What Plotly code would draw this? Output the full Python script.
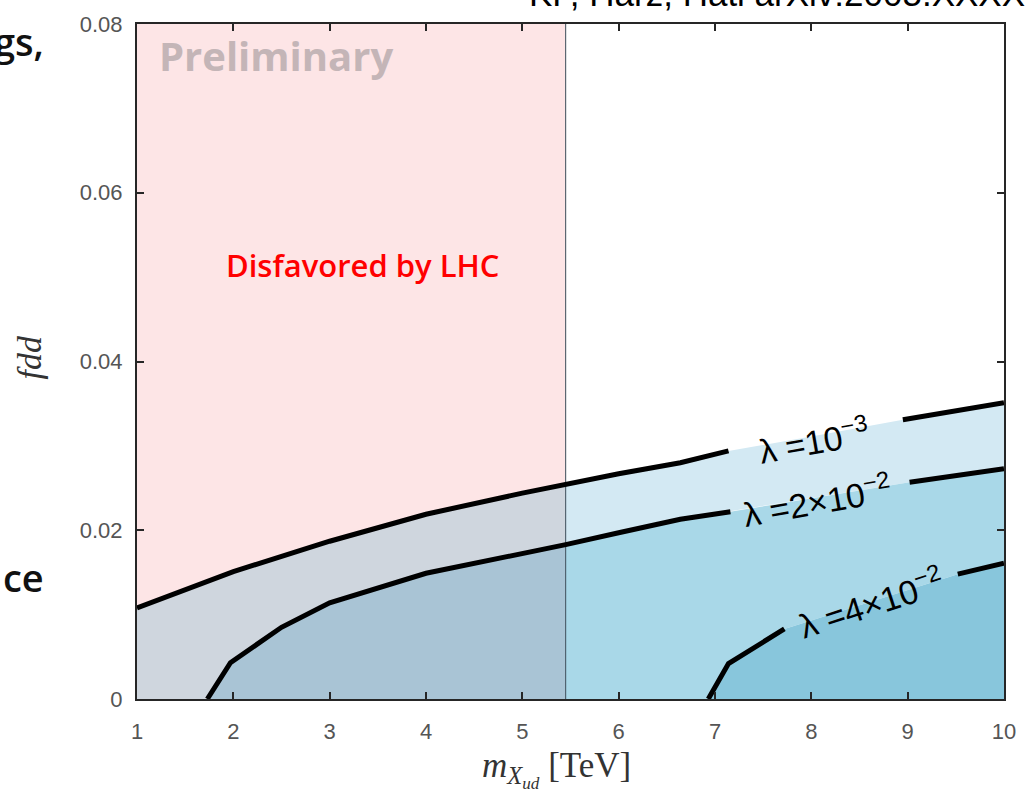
import plotly.graph_objects as go

# Contours of constant lambda in the (m_X, f_dd) plane
lam3_m = [1.0, 2.0, 3.0, 4.0, 5.0, 5.45, 6.0, 6.64, 7.14, 8.0, 8.95, 10.0]
lam3_f = [0.0108, 0.0151, 0.0187, 0.0219, 0.0244, 0.0255, 0.0267, 0.0280, 0.0294, 0.0311, 0.0331, 0.0351]

lam2_m = [1.73, 1.97, 2.5, 3.0, 4.0, 5.0, 5.45, 6.0, 6.64, 7.16, 8.0, 9.02, 10.0]
lam2_f = [0.0, 0.0043, 0.0085, 0.0114, 0.0149, 0.0172, 0.0183, 0.0197, 0.0213, 0.0222, 0.0238, 0.0257, 0.0273]

lam4_m = [6.93, 7.14, 7.72, 8.0, 9.0, 9.52, 10.0]
lam4_f = [0.0, 0.0042, 0.0083, 0.0093, 0.0129, 0.0148, 0.0161]

# LHC exclusion boundary [TeV]
m_lhc = 5.45

m_range = [1, 10]
f_range = [0, 0.08]
x_ticks = [1, 2, 3, 4, 5, 6, 7, 8, 9, 10]
y_ticks = [0, 0.02, 0.04, 0.06, 0.08]
y_ticklabels = ["0", "0.02", "0.04", "0.06", "0.08"]

contour_labels = ["λ =10<sup>−3</sup>", "λ =2×10<sup>−2</sup>", "λ =4×10<sup>−2</sup>"]

# figure geometry
W, H = 1029, 791
ML, MR, MT, MB = 137, 25, 17, 92
PW, PH = W - ML - MR, H - MT - MB


def px(x):
    return (x - ML) / PW


def py(y):
    return (H - MB - y) / PH


def seg(ms, fs, lo, hi):
    pts = [(m, f) for m, f in zip(ms, fs) if lo - 1e-9 <= m <= hi + 1e-9]
    return [p[0] for p in pts], [p[1] for p in pts]


fig = go.Figure()


def region(xs, ys, color):
    fig.add_trace(go.Scatter(x=xs, y=ys, mode="lines", fill="toself",
                             fillcolor=color, line=dict(width=0),
                             hoverinfo="skip", showlegend=False))


x3L, y3L = seg(lam3_m, lam3_f, m_range[0], m_lhc)
x3R, y3R = seg(lam3_m, lam3_f, m_lhc, m_range[1])
x2L, y2L = seg(lam2_m, lam2_f, m_range[0], m_lhc)
x2R, y2R = seg(lam2_m, lam2_f, m_lhc, m_range[1])

# left (LHC-disfavoured) side
region(x3L + [m_lhc, m_range[0]], y3L + [f_range[1], f_range[1]], "#fde5e6")
region(x3L + x2L[::-1] + [m_range[0]], y3L + y2L[::-1] + [0], "#cfd6de")
region(x2L + [m_lhc], y2L + [0], "#a9c4d5")
# right side
region(x3R + x2R[::-1], y3R + y2R[::-1], "#d3e9f3")
region(x2R + lam4_m[::-1] + [m_lhc], y2R + lam4_f[::-1] + [0], "#a9d8e8")
region(lam4_m + [m_range[1]], lam4_f + [0], "#88c6dc")

# LHC boundary
fig.add_trace(go.Scatter(x=[m_lhc, m_lhc], y=f_range, mode="lines",
                         line=dict(color="#3b4b57", width=1),
                         hoverinfo="skip", showlegend=False))

# contour lines with gaps for their inline labels
gaps = [(7.14, 8.95), (7.16, 9.02), (7.72, 9.52)]
for (ms, fs), (g0, g1) in zip([(lam3_m, lam3_f), (lam2_m, lam2_f), (lam4_m, lam4_f)], gaps):
    xa, ya = seg(ms, fs, -1, g0)
    xb, yb = seg(ms, fs, g1, 99)
    fig.add_trace(go.Scatter(x=xa + [None] + xb, y=ya + [None] + yb, mode="lines",
                             line=dict(color="black", width=5),
                             connectgaps=False, hoverinfo="skip", showlegend=False))

label_font = dict(family="Liberation Sans, Arial", size=34, color="black")
for txt, (lx, ly, ang) in zip(contour_labels,
                              [(8.02, 0.0308, -10), (8.06, 0.0236, -10), (8.62, 0.0115, -18)]):
    fig.add_annotation(x=lx, y=ly, xref="x", yref="y", text=txt, showarrow=False,
                       xanchor="center", yanchor="middle",
                       textangle=ang, font=label_font)

fig.add_annotation(x=px(157), y=py(49), xref="paper", yref="paper",
                   xanchor="left", yanchor="middle",
                   text="Preliminary", showarrow=False,
                   font=dict(family="Open Sans", size=40, color="#c4b5b7", weight=700))
fig.add_annotation(x=px(362), y=py(260), xref="paper", yref="paper",
                   xanchor="center", yanchor="middle",
                   text="Disfavored by LHC", showarrow=False,
                   font=dict(family="Open Sans", size=31, color="#ff0000", weight=600))

fig.add_annotation(x=px(1027), y=py(8), xref="paper", yref="paper",
                   xanchor="right", yanchor="bottom",
                   text="KF, Harz, Hati arXiv:2005.XXXX", showarrow=False,
                   font=dict(family="Liberation Sans, Arial", size=35, color="black"))

side_font = dict(family="Open Sans", size=38, color="#111111", weight=600)
fig.add_annotation(x=px(46), y=py(34), xref="paper", yref="paper",
                   xanchor="right", yanchor="middle",
                   text="gs,", showarrow=False, font=side_font)
fig.add_annotation(x=px(46), y=py(576), xref="paper", yref="paper",
                   xanchor="right", yanchor="middle",
                   text="ce", showarrow=False, font=side_font)

serif = "Liberation Serif, DejaVu Serif, serif"
fig.add_annotation(x=px(556), y=py(770), xref="paper", yref="paper",
                   xanchor="center", yanchor="middle",
                   text="<i>m</i><sub><i>X</i><sub><i>ud</i></sub></sub> [TeV]",
                   showarrow=False, font=dict(family=serif, size=35, color="#333333"))
fig.add_annotation(x=px(30), y=py(354), xref="paper", yref="paper",
                   xanchor="center", yanchor="middle", textangle=-90,
                   text="<i>fdd</i>", showarrow=False,
                   font=dict(family=serif, size=34, color="#333333"))

tick_font = dict(family="Liberation Sans, Arial", size=22, color="#555555")
axis_common = dict(showline=True, mirror="ticks", linecolor="#262626", linewidth=2,
                   ticks="inside", ticklen=7, tickwidth=2, tickcolor="#262626",
                   showgrid=False, zeroline=False, tickfont=tick_font)

fig.update_layout(
    width=W, height=H,
    margin=dict(l=ML, r=MR, t=MT, b=MB, pad=0),
    paper_bgcolor="white", plot_bgcolor="white",
    xaxis=dict(range=m_range, tickvals=x_ticks, ticklabelstandoff=12, **axis_common),
    yaxis=dict(range=f_range, tickvals=y_ticks, ticktext=y_ticklabels,
               ticklabelstandoff=8, **axis_common),
)

fig.write_html("out.html")
